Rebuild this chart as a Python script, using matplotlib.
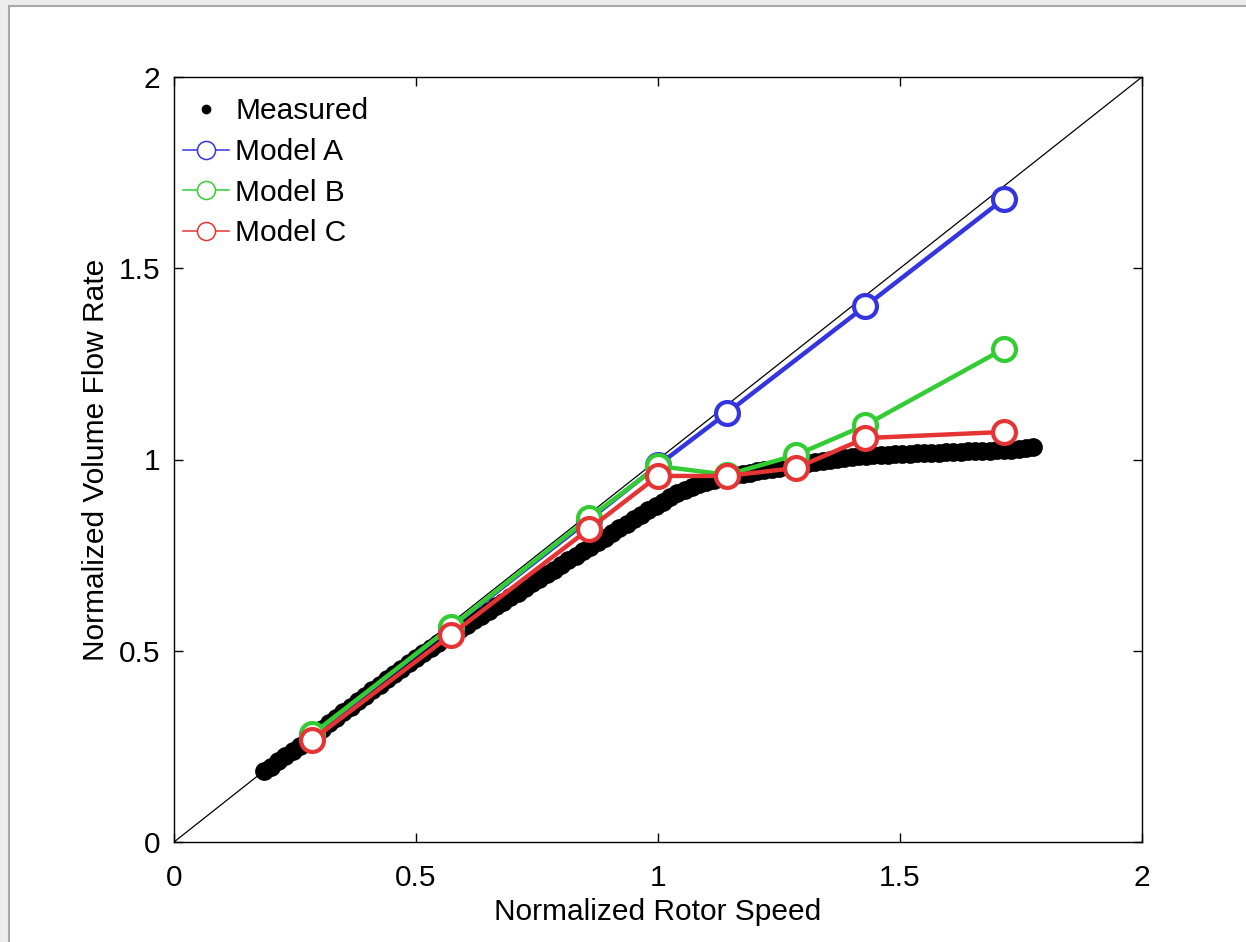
import matplotlib
matplotlib.use("Agg")
import matplotlib.pyplot as plt
from matplotlib.lines import Line2D
from matplotlib.patches import Rectangle

plt.rcParams['font.family'] = ['Liberation Sans', 'DejaVu Sans']

# model points (normalized rotor speed)
speed_a = [2/7, 4/7, 6/7, 1.0, 8/7, 10/7, 12/7]
flow_a = [0.280, 0.560, 0.842, 0.985, 1.122, 1.401, 1.681]

speed_bc = [2/7, 4/7, 6/7, 1.0, 8/7, 9/7, 10/7, 12/7]
flow_b = [0.282, 0.562, 0.847, 0.983, 0.960, 1.012, 1.090, 1.289]
flow_c = [0.267, 0.541, 0.818, 0.957, 0.957, 0.978, 1.056, 1.072]

# measured curve
meas_x = [0.185, 0.200, 0.215, 0.230, 0.245, 0.260, 0.275, 0.290, 0.305, 0.320,
          0.335, 0.350, 0.365, 0.380, 0.395, 0.410, 0.425, 0.440, 0.455, 0.470,
          0.485, 0.500, 0.515, 0.530, 0.545, 0.560, 0.575, 0.590, 0.605, 0.620,
          0.635, 0.650, 0.665, 0.680, 0.695, 0.710, 0.725, 0.740, 0.755, 0.770,
          0.785, 0.800, 0.815, 0.830, 0.845, 0.860, 0.875, 0.890, 0.905, 0.920,
          0.935, 0.950, 0.965, 0.980, 0.995, 1.010, 1.025, 1.040, 1.055, 1.070,
          1.085, 1.100, 1.115, 1.130, 1.145, 1.160, 1.175, 1.190, 1.205, 1.220,
          1.235, 1.250, 1.265, 1.280, 1.295, 1.310, 1.325, 1.340, 1.355, 1.370,
          1.385, 1.400, 1.415, 1.430, 1.445, 1.460, 1.475, 1.490, 1.505, 1.520,
          1.535, 1.550, 1.565, 1.580, 1.595, 1.610, 1.625, 1.640, 1.655, 1.670,
          1.685, 1.700, 1.715, 1.730, 1.745, 1.760, 1.775]
meas_y = [0.185, 0.197, 0.211, 0.224, 0.239, 0.252, 0.267, 0.281, 0.296, 0.310,
          0.325, 0.339, 0.354, 0.368, 0.383, 0.397, 0.411, 0.425, 0.439, 0.453,
          0.467, 0.480, 0.494, 0.507, 0.520, 0.533, 0.546, 0.558, 0.568, 0.580,
          0.592, 0.604, 0.616, 0.628, 0.640, 0.652, 0.664, 0.676, 0.688, 0.700,
          0.712, 0.724, 0.736, 0.748, 0.760, 0.772, 0.784, 0.796, 0.808, 0.820,
          0.832, 0.844, 0.856, 0.868, 0.879, 0.890, 0.901, 0.912, 0.921, 0.929,
          0.936, 0.942, 0.947, 0.951, 0.955, 0.959, 0.963, 0.966, 0.970, 0.973,
          0.976, 0.979, 0.982, 0.985, 0.988, 0.991, 0.994, 0.997, 0.999, 1.002,
          1.004, 1.006, 1.008, 1.009, 1.011, 1.012, 1.013, 1.014, 1.015, 1.015,
          1.016, 1.017, 1.017, 1.018, 1.019, 1.019, 1.020, 1.021, 1.021, 1.022,
          1.023, 1.024, 1.025, 1.026, 1.027, 1.029, 1.032]

blue = '#3434e0'
green = '#33cc33'
red = '#e63434'

fig = plt.figure(figsize=(12.46, 9.42), dpi=100, facecolor='#ececec')
fig.add_artist(Rectangle((9/1246, -0.01), 1.0, 1 - 6/942 + 0.01,
                         transform=fig.transFigure, facecolor='white',
                         edgecolor='#a8a8a8', linewidth=1.5, zorder=-5))

ax = fig.add_axes([174/1246, 1 - 842/942, 968/1246, 765/942])

ax.plot([0, 2], [0, 2], color='black', lw=0.9, zorder=1)
ax.plot(meas_x, meas_y, 'o', color='black', ms=13.5, mew=0, zorder=2)

for sx, fy, c in [(speed_a, flow_a, blue), (speed_bc, flow_b, green), (speed_bc, flow_c, red)]:
    ax.plot(sx, fy, '-o', color=c, lw=3.2, ms=16.5, mfc='white', mec=c, mew=3.0, zorder=3)

ax.set_xlim(0, 2)
ax.set_ylim(0, 2)
ax.set_xticks([0, 0.5, 1, 1.5, 2])
ax.set_yticks([0, 0.5, 1, 1.5, 2])
ax.set_xticklabels(['0', '0.5', '1', '1.5', '2'])
ax.set_yticklabels(['0', '0.5', '1', '1.5', '2'])
ax.tick_params(direction='in', length=6.5, width=1, top=True, right=True, labelsize=21.5)
ax.tick_params(axis='x', pad=16)
ax.tick_params(axis='y', pad=10)
for s in ax.spines.values():
    s.set_linewidth(1.0)

ax.set_xlabel('Normalized Rotor Speed', fontsize=21.5, labelpad=4)
ax.set_ylabel('Normalized Volume Flow Rate', fontsize=21.5, labelpad=6)

handles = [
    Line2D([], [], ls='none', marker='o', color='black', ms=6),
    Line2D([], [], color=blue, lw=1.1, marker='o', ms=13, mfc='white', mec=blue, mew=1.1),
    Line2D([], [], color=green, lw=1.1, marker='o', ms=13, mfc='white', mec=green, mew=1.1),
    Line2D([], [], color=red, lw=1.1, marker='o', ms=13, mfc='white', mec=red, mew=1.1),
]
ax.legend(handles, ['Measured', 'Model A', 'Model B', 'Model C'], loc='upper left',
          frameon=False, fontsize=21.5, handlelength=1.55, handletextpad=0.2,
          labelspacing=0.42, borderaxespad=0.0, borderpad=0.3,
          bbox_to_anchor=(0.0, 0.985))

fig.savefig('out.png', dpi=100, facecolor=fig.get_facecolor())
